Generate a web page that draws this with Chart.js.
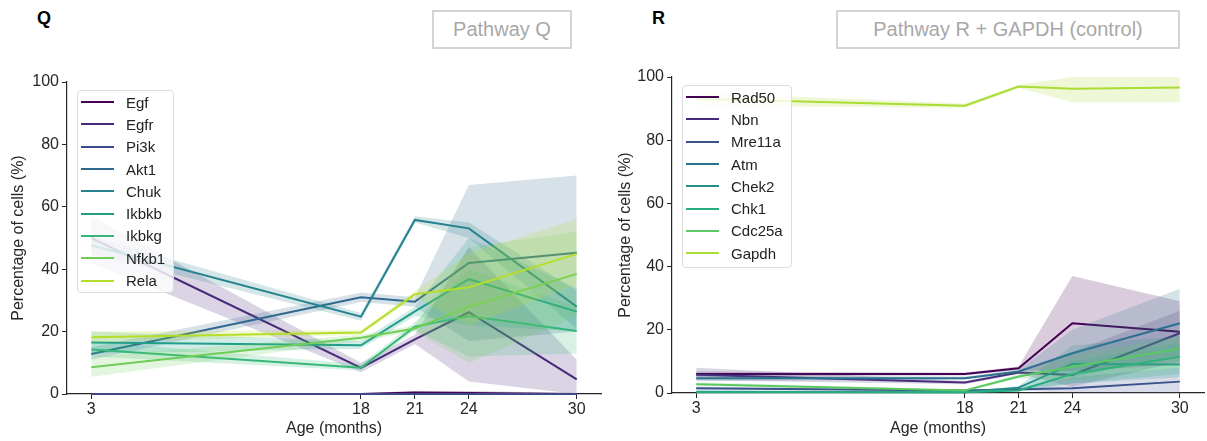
<!DOCTYPE html>
<html lang="en">
<head>
<meta charset="UTF-8">
<title>Pathway expression by age</title>
<script src="https://cdn.jsdelivr.net/npm/chart.js"></script>
<style>
  body { margin: 0; background: #fff; font-family: "Liberation Sans", Arial, sans-serif; }
  #page { position: relative; width: 1207px; height: 441px; overflow: hidden; }
  #page canvas { position: absolute; top: 0; }
  .letter { position: absolute; top: 8px; font-weight: bold; font-size: 18px; color: #000; }
  .pathway { position: absolute; top: 10px; height: 35px; border: 2px solid #d4d4d4; color: #a8a8a8;
             font-size: 20px; line-height: 35px; text-align: center; }
  .legend { position: absolute; background: rgba(255,255,255,0.8); border: 1px solid #dcdcdc; border-radius: 4px;
            padding: 0 8px 0 3px; font-size: 15px; color: #222; }
  .legend .item { height: 22.3px; display: flex; align-items: center; }
  .legend .swatch { width: 33px; height: 2px; margin-right: 12px; flex: none; }
</style>
</head>
<body>
<div id="page">
  <div class="letter" style="left:37px">Q</div>
  <div class="pathway" style="left:432px; width:136px">Pathway Q</div>
  <div class="letter" style="left:652px">R</div>
  <div class="pathway" style="left:836px; width:340px">Pathway R + GAPDH (control)</div>
  <canvas id="chartQ" width="605" height="441" style="left:0"></canvas>
  <canvas id="chartR" width="602" height="441" style="left:605px"></canvas>
  <div class="legend" id="legendQ" style="left:77px; top:90px"></div>
  <div class="legend" id="legendR" style="left:682px; top:85px; padding-bottom:3px"></div>
</div>
<script>
// age in months, shared by both panels
const ageMonths = [3, 18, 21, 24, 30];

// panel Q: mean % of cells and the shaded interval (low / high)
const qGenes  = ['Egf', 'Egfr', 'Pi3k', 'Akt1', 'Chuk', 'Ikbkb', 'Ikbkg', 'Nfkb1', 'Rela'];
const qColors = ['#440154', '#482878', '#3e4989', '#31688e', '#26828e', '#1f9e89', '#35b779', '#6ece58', '#b5de2b'];
const egf   = [0, 0, 0.5, 0.3, 0];
const egfr  = [50, 8.4, 17.5, 26.2, 4.7];
const pi3k  = [0, 0, 0, 0, 0];
const akt1  = [12.8, 31.0, 29.6, 42.0, 45.3];
const chuk  = [47.7, 24.8, 55.8, 53.1, 28.0];
const ikbkb = [16.5, 15.6, 26.5, 36.8, 26.4];
const ikbkg = [14.3, 8.4, 21.6, 25.0, 20.2];
const nfkb1 = [8.6, 18.0, 21.0, 28.0, 38.5];
const rela  = [18.2, 19.7, 32.0, 34.2, 44.9];
const qLow  = [
  [0, 0, 0, 0, 0], [42, 7, 16, 4, 0], [0, 0, 0, 0, 0], [11, 29.5, 28, 17, 20], [45, 23.5, 55, 50, 21],
  [13, 14.5, 25, 22, 20], [12, 7.5, 20.5, 12, 13], [5.5, 17, 20, 10, 25], [16.5, 19, 31, 22, 35]
];
const qHigh = [
  [0.3, 0.3, 1, 1, 0.3], [57, 10, 19, 47, 11], [0, 0, 0, 0, 0], [15, 32.5, 31, 67, 70], [50.5, 26, 57, 55, 33],
  [20, 17, 28, 50, 34], [17, 9.5, 23, 40, 28], [12, 19, 22, 47, 52], [20, 20.5, 33, 45, 56]
];

// panel R
const rGenes  = ['Rad50', 'Nbn', 'Mre11a', 'Atm', 'Chek2', 'Chk1', 'Cdc25a', 'Gapdh'];
const rColors = ['#440154', '#472c7a', '#3b518b', '#2c718e', '#21908d', '#27ad81', '#5cc863', '#aadc32'];
const rad50  = [6.0, 6.0, 7.8, 22.1, 19.4];
const nbn    = [5.8, 3.3, 6.5, 5.7, 18.9];
const mre11a = [1.5, 0.8, 1.2, 1.5, 3.6];
const atm    = [4.7, 4.7, 6.8, 12.6, 22.1];
const chek2  = [0.4, 0.2, 1.7, 9.2, 9.0];
const chk1   = [0.2, 0.2, 0.8, 6.0, 11.5];
const cdc25a = [2.8, 0.8, 5.2, 8.3, 14.0];
const gapdh  = [93.1, 90.9, 97.0, 96.3, 96.7];
const rLow  = [
  [5.2, 5.5, 7.2, 7, 9], [4, 2.8, 6, 2, 10], [1, 0.5, 0.8, 0, 0], [3.8, 4.2, 6.3, 5, 12],
  [0, 0, 1.2, 3, 5], [0, 0, 0.4, 3, 6], [2.2, 0.5, 4.5, 4, 8], [91, 90.2, 96.5, 92, 92]
];
const rHigh = [
  [6.8, 6.5, 8.4, 37, 29], [8, 3.8, 7, 13, 26], [2, 1.1, 1.6, 5, 8], [5.6, 5.2, 7.3, 20, 33],
  [0.8, 0.4, 2.2, 15, 18], [0.4, 0.4, 1.2, 10, 16], [3.4, 1.1, 5.9, 12, 18], [95, 91.6, 97.5, 100, 100]
];

const ink = '#262626';

function toPoints(vals) {
  return vals.map((v, i) => ({ x: ageMonths[i], y: v }));
}

function withAlpha(hex, a) {
  const n = parseInt(hex.slice(1), 16);
  return `rgba(${n >> 16}, ${(n >> 8) & 255}, ${n & 255}, ${a})`;
}

function fillLegend(id, names, colors) {
  const box = document.getElementById(id);
  names.forEach((name, i) => {
    const row = document.createElement('div');
    row.className = 'item';
    row.innerHTML = `<span class="swatch" style="background:${colors[i]}"></span><span>${name}</span>`;
    box.appendChild(row);
  });
}

function buildPanel(canvasId, names, colors, series, lows, highs, box) {
  const datasets = [];
  names.forEach((name, i) => {
    datasets.push({ data: toPoints(lows[i]), borderWidth: 0, pointRadius: 0, fill: false });
    datasets.push({ data: toPoints(highs[i]), borderWidth: 0, pointRadius: 0, fill: '-1',
                    backgroundColor: withAlpha(colors[i], 0.2) });
    // lines at 0 stay fully visible over the axis
    datasets.push({ label: name, data: toPoints(series[i]), borderColor: colors[i], borderWidth: 2,
                    pointRadius: 0, fill: false, clip: 3 });
  });
  // later series sit on top, as in the usual plotting order
  datasets.forEach((d, k) => { d.order = datasets.length - k; d.tension = 0; });

  const tickFont = { family: '"Liberation Sans", Arial, sans-serif', size: 16 };
  new Chart(document.getElementById(canvasId), {
    type: 'line',
    data: { datasets },
    options: {
      responsive: false,
      animation: false,
      layout: { padding: { top: box.top, right: box.right, left: 0, bottom: 0 } },
      plugins: { legend: { display: false }, tooltip: { enabled: false } },
      scales: {
        x: {
          type: 'linear', min: 1.65, max: 31.35,
          afterBuildTicks: (axis) => { axis.ticks = ageMonths.map(v => ({ value: v })); },
          afterFit: (axis) => { axis.height = box.xh; },
          ticks: { font: tickFont, color: ink, padding: 1, autoSkip: false, maxRotation: 0 },
          grid: { drawOnChartArea: false, tickLength: 5, color: ink },
          border: { color: ink, width: 1.2 },
          title: { display: true, text: 'Age (months)', font: tickFont, color: ink, padding: { top: 0, bottom: 3 } }
        },
        y: {
          min: 0, max: 100,
          afterFit: (axis) => { axis.width = box.yw; },
          ticks: { stepSize: 20, font: tickFont, color: ink, padding: 3 },
          grid: { drawOnChartArea: false, tickLength: 5, color: ink },
          border: { color: ink, width: 1.2 },
          title: { display: true, text: 'Percentage of cells (%)', font: tickFont, color: ink,
                   padding: { top: box.titlePad, bottom: 0 } }
        }
      }
    }
  });
}

buildPanel('chartQ', qGenes, qColors, [egf, egfr, pi3k, akt1, chuk, ikbkb, ikbkg, nfkb1, rela], qLow, qHigh,
           { top: 82, right: 4, yw: 67, xh: 47, titlePad: 8.5 });
buildPanel('chartR', rGenes, rColors, [rad50, nbn, mre11a, atm, chek2, chk1, cdc25a, gapdh], rLow, rHigh,
           { top: 77, right: 3, yw: 67, xh: 48, titlePad: 10.5 });

fillLegend('legendQ', qGenes, qColors);
fillLegend('legendR', rGenes, rColors);
</script>
</body>
</html>
